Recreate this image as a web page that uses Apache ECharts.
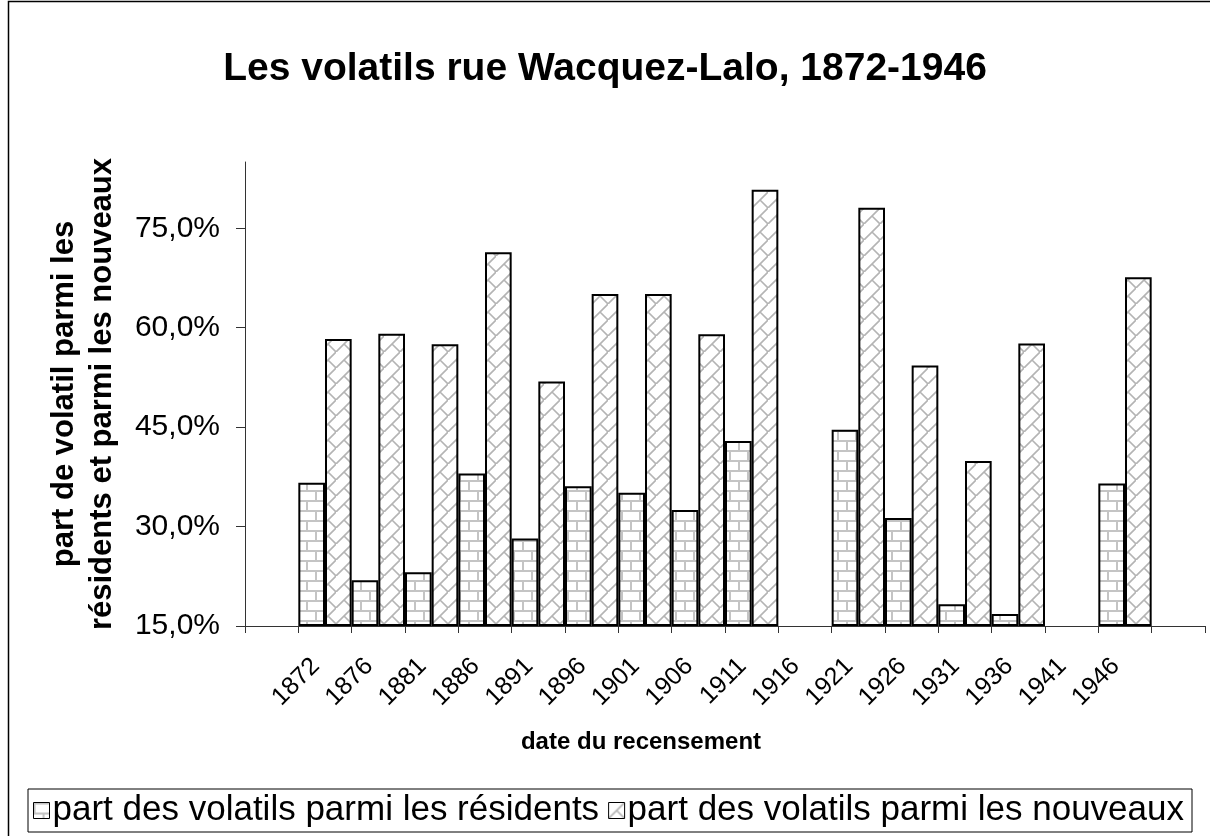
<!DOCTYPE html>
<html>
<head>
<meta charset="utf-8">
<script src="https://cdn.jsdelivr.net/npm/echarts@6/dist/echarts.min.js"></script>
<style>
  html, body { margin: 0; padding: 0; background: #fff; }
  #chart { width: 1210px; height: 836px; }
</style>
</head>
<body>
<div id="chart"></div>
<script>
// census years (empty slots at both ends, as in the original sheet)
var years = ['', '1872', '1876', '1881', '1886', '1891', '1896', '1901', '1906', '1911',
  '1916', '1921', '1926', '1931', '1936', '1941', '1946', ''];
// part des volatils parmi les résidents (%)
var residents = [null, 36.6, 21.9, 23.1, 38.0, 28.2, 36.1, 35.1, 32.5, 42.9,
  null, 44.6, 31.3, 18.3, 16.8, null, 36.5, null];
// part des volatils parmi les nouveaux (%)
var nouveaux = [null, 58.3, 59.1, 57.5, 71.4, 51.9, 65.1, 65.1, 59.0, 80.8,
  null, 78.1, 54.3, 39.9, 57.6, null, 67.6, null];
var yTicks = [15, 30, 45, 60, 75];

var FONT = '"Liberation Sans", Arial, sans-serif';

// excel-like fill patterns
var brickPattern = function() {
  var c = document.createElement('canvas');
  c.width = 18; c.height = 20;
  var g = c.getContext('2d');
  g.fillStyle = '#fff';
  g.fillRect(0, 0, 18, 20);
  g.strokeStyle = '#c4c4c4';
  g.lineWidth = 2;
  g.beginPath();
  g.moveTo(0, 1); g.lineTo(18, 1);
  g.moveTo(0, 11); g.lineTo(18, 11);
  g.moveTo(1, 1); g.lineTo(1, 11);
  g.moveTo(10, 11); g.lineTo(10, 20);
  g.stroke();
  return c;
};

var diagBrickPattern = function() {
  var c = document.createElement('canvas');
  c.width = 16; c.height = 16;
  var g = c.getContext('2d');
  g.fillStyle = '#fff';
  g.fillRect(0, 0, 16, 16);
  g.strokeStyle = '#b4b4b4';
  g.lineWidth = 1.6;
  g.beginPath();
  g.moveTo(-2, 18); g.lineTo(18, -2);
  g.moveTo(8, 8); g.lineTo(17, 17);
  g.stroke();
  return c;
};

var chart = echarts.init(document.getElementById('chart'), null, { renderer: 'canvas' });

var option = {
  backgroundColor: '#fff',
  animation: false,
  title: {
    text: 'Les volatils rue Wacquez-Lalo, 1872-1946',
    left: 'center',
    top: 45,
    textStyle: { fontFamily: FONT, fontSize: 39, fontWeight: 'bold', color: '#000' }
  },
  graphic: [{
    type: 'rect',
    shape: { x: 8.5, y: 1.5, width: 1300, height: 1000 },
    style: { fill: null, stroke: '#000', lineWidth: 1.5 },
    silent: true
  }],
  legend: {
    left: 28,
    top: 789,
    padding: [4, 8, 4, 5],
    borderColor: '#000',
    borderWidth: 1,
    icon: 'rect',
    itemWidth: 16,
    itemHeight: 16,
    itemGap: 9,
    itemStyle: { borderColor: '#000', borderWidth: 1 },
    textStyle: { fontFamily: FONT, fontSize: 35, color: '#000', padding: [0, 0, 0, -2] },
    data: ['part des volatils parmi les résidents', 'part des volatils parmi les nouveaux']
  },
  grid: { left: 245, right: 5, top: 162, bottom: 210, containLabel: false },
  xAxis: {
    type: 'category',
    data: years,
    name: 'date du recensement',
    nameLocation: 'middle',
    nameGap: 104,
    nameTextStyle: {
      fontFamily: FONT, fontSize: 24, fontWeight: 'bold', color: '#000',
      padding: [0, 168, 0, 0]
    },
    axisLine: { lineStyle: { color: '#333', width: 1 } },
    axisTick: { show: true, length: 7, lineStyle: { color: '#333' } },
    axisLabel: {
      interval: 0,
      rotate: 45,
      margin: 27,
      fontFamily: FONT,
      fontSize: 25,
      color: '#000',
      padding: [0, 13, 25, 0]
    }
  },
  yAxis: {
    type: 'value',
    min: 15,
    max: 85,
    interval: 15,
    startValue: 15,
    name: 'part de volatil parmi les\nrésidents et parmi les nouveaux',
    nameLocation: 'middle',
    nameRotate: 90,
    nameGap: 124,
    nameTextStyle: { fontFamily: FONT, fontSize: 31, fontWeight: 'bold', color: '#000', lineHeight: 38 },
    splitLine: { show: false },
    axisLine: { show: true, lineStyle: { color: '#333', width: 1 } },
    axisTick: { show: true, length: 9, customValues: yTicks, lineStyle: { color: '#333' } },
    axisLabel: {
      customValues: yTicks,
      margin: 25,
      fontFamily: FONT,
      fontSize: 30,
      color: '#000',
      formatter: function(v) { return v.toFixed(1).replace('.', ',') + '%'; }
    }
  },
  series: [
    {
      name: 'part des volatils parmi les résidents',
      type: 'bar',
      data: residents,
      barGap: '0%',
      barCategoryGap: '0%',
      clip: true,
      itemStyle: {
        color: { image: brickPattern(), repeat: 'repeat' },
        borderColor: '#000',
        borderWidth: 2
      }
    },
    {
      name: 'part des volatils parmi les nouveaux',
      type: 'bar',
      data: nouveaux,
      barGap: '0%',
      barCategoryGap: '0%',
      clip: true,
      itemStyle: {
        color: { image: diagBrickPattern(), repeat: 'repeat' },
        borderColor: '#000',
        borderWidth: 2
      }
    }
  ]
};

chart.setOption(option);
</script>
</body>
</html>
